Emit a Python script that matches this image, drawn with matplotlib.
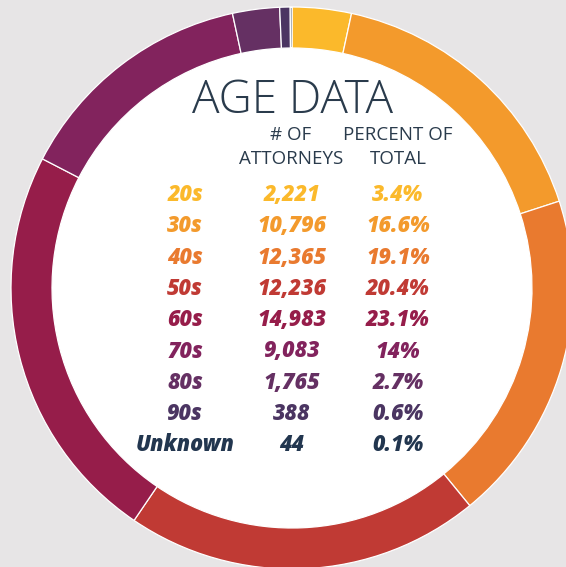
import matplotlib
matplotlib.use("Agg")
import matplotlib.pyplot as plt

# data
groups = ["20s", "30s", "40s", "50s", "60s", "70s", "80s", "90s", "Unknown"]
attorneys = ["2,221", "10,796", "12,365", "12,236", "14,983", "9,083", "1,765", "388", "44"]
percents = [3.4, 16.6, 19.1, 20.4, 23.1, 14, 2.7, 0.6, 0.1]
colors = ["#fbb92b", "#f39a2c", "#e97a2f", "#c03a34", "#961d4a",
          "#82235d", "#653063", "#4b3562", "#22364f"]

W, H = 566, 567
bg = "#e7e5e6"
dark = "#2a3b4c"

fig = plt.figure(figsize=(W / 100, H / 100), dpi=100, facecolor=bg)
ax = fig.add_axes([0, 0, 1, 1])
ax.set_facecolor(bg)

cx, cy = 292, 288  # centre in pixel coords (y down)
R, ring = 281, 41

ax.pie(percents, colors=colors, startangle=90, counterclock=False,
       center=(cx, H - cy), radius=R,
       wedgeprops=dict(width=ring, edgecolor="white", linewidth=0.9))
ax.add_patch(plt.Circle((cx, H - cy), R - ring, color="white", zorder=0))

ax.set_xlim(0, W)
ax.set_ylim(0, H)
ax.set_aspect("equal")
ax.axis("off")


def txt(x, y, s, **kw):
    ax.text(x, H - y, s, ha="center", va="center", **kw)


txt(293, 101, "AGE DATA", fontsize=33, color=dark, family="Open Sans", fontweight="light")
for x, lines in [(291, ("# OF", "ATTORNEYS")), (398, ("PERCENT OF", "TOTAL"))]:
    txt(x, 135, lines[0], fontsize=13.5, color=dark, family="Open Sans")
    txt(x, 159, lines[1], fontsize=13.5, color=dark, family="Open Sans")

y0, dy = 195, 31.3
for i, g in enumerate(groups):
    y = y0 + i * dy
    style = dict(fontsize=15.5, color=colors[i], family="Open Sans",
                 fontweight=800, fontstyle="italic")
    txt(185, y, g, **style)
    txt(292, y, attorneys[i], **style)
    pct = f"{percents[i]:g}%"
    txt(398, y, pct, **style)

fig.savefig("out.png", dpi=100, facecolor=bg)
